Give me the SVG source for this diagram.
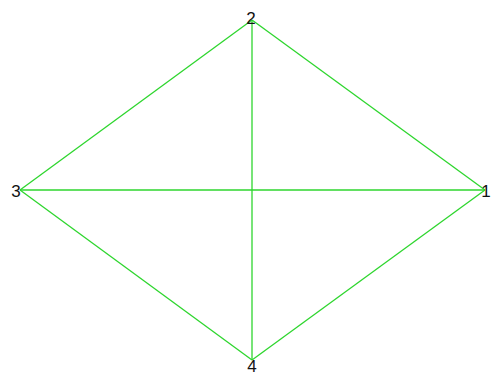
<svg xmlns="http://www.w3.org/2000/svg" width="494" height="375" viewBox="0 0 494 375">
<style>
.e{stroke:#2ed62e;stroke-width:1.3;fill:none}
.l{font-family:"Liberation Sans",Arial,sans-serif;font-size:17px;fill:#111;text-anchor:middle}
</style>
<rect width="494" height="375" fill="#fff"/>
<g id="edges">
<line class="e" x1="252" y1="20" x2="485" y2="190"/>
<line class="e" x1="252" y1="20" x2="20" y2="190"/>
<line class="e" x1="252" y1="20" x2="252" y2="360"/>
<line class="e" x1="20" y1="190" x2="485" y2="190"/>
<line class="e" x1="20" y1="190" x2="252" y2="360"/>
<line class="e" x1="252" y1="360" x2="485" y2="190"/>
</g>
<g id="n1"><text class="l" x="486" y="197">1</text></g>
<g id="n2"><text class="l" x="251" y="24">2</text></g>
<g id="n3"><text class="l" x="16" y="197">3</text></g>
<g id="n4"><text class="l" x="252" y="372">4</text></g>
</svg>
